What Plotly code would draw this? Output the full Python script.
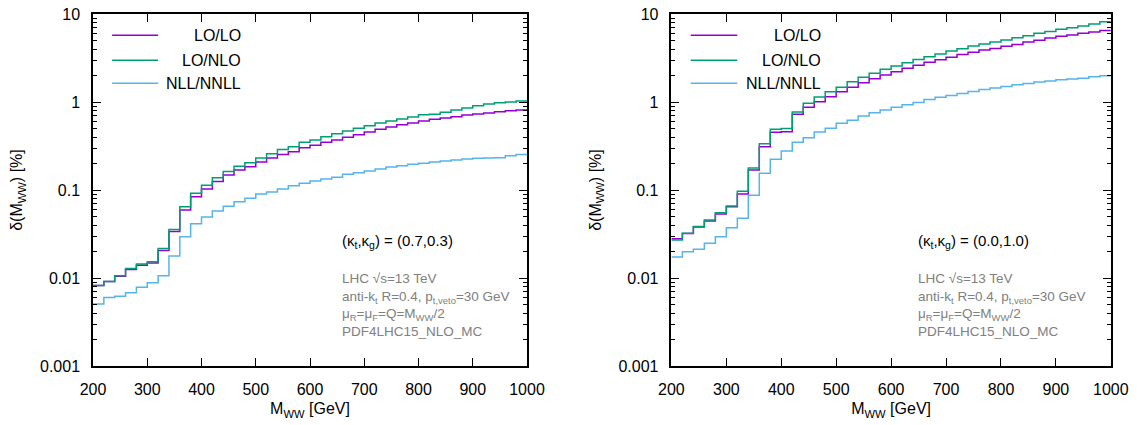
import plotly.graph_objects as go

# Bin edges in M_WW [GeV]: 20 GeV bins from 200 to 1000
bin_lo = list(range(200, 1000, 20))
x_edges = bin_lo + [1000]

# (kt, kg) = (0.7, 0.3)
left_lolo = [0.0082, 0.0091, 0.0105, 0.0125, 0.0140, 0.0148, 0.0206, 0.0337, 0.0592, 0.084,
             0.1026, 0.125, 0.148, 0.169, 0.184, 0.208, 0.231, 0.254, 0.272, 0.303,
             0.322, 0.348, 0.37, 0.397, 0.426, 0.456, 0.489, 0.52, 0.553, 0.577,
             0.608, 0.636, 0.658, 0.68, 0.712, 0.73, 0.75, 0.776, 0.797, 0.811]
left_lonlo = [0.0082, 0.0091, 0.0106, 0.0128, 0.0144, 0.0153, 0.0217, 0.0357, 0.0647, 0.0917,
              0.113, 0.138, 0.162, 0.186, 0.204, 0.231, 0.259, 0.288, 0.31, 0.348,
              0.37, 0.404, 0.436, 0.468, 0.502, 0.538, 0.577, 0.608, 0.641, 0.675,
              0.718, 0.724, 0.763, 0.811, 0.855, 0.908, 0.949, 0.983, 1.0, 1.03]
left_nllnnll = [0.00507, 0.0060, 0.0062, 0.0068, 0.00783, 0.00885, 0.0106, 0.0178, 0.0295, 0.0414,
                0.0493, 0.0577, 0.0652, 0.0737, 0.0804, 0.090, 0.095, 0.1030, 0.112, 0.119,
                0.127, 0.133, 0.140, 0.151, 0.157, 0.164, 0.173, 0.183, 0.189, 0.196,
                0.201, 0.208, 0.214, 0.219, 0.225, 0.229, 0.231, 0.233, 0.245, 0.254]

# (kt, kg) = (0.0, 1.0)
right_lolo = [0.028, 0.032, 0.038, 0.0445, 0.0535, 0.0645, 0.090, 0.169, 0.311, 0.452,
              0.46, 0.727, 0.87, 1.01, 1.15, 1.31, 1.47, 1.66, 1.84, 2.03,
              2.21, 2.42, 2.62, 2.84, 3.02, 3.23, 3.47, 3.67, 3.90, 4.07,
              4.3, 4.5, 4.8, 5.05, 5.35, 5.58, 5.78, 6.03, 6.25, 6.48]
right_lonlo = [0.027, 0.0322, 0.0386, 0.0456, 0.0552, 0.0658, 0.0966, 0.178, 0.335, 0.489,
               0.50, 0.77, 0.966, 1.14, 1.31, 1.47, 1.70, 1.91, 2.13, 2.35,
               2.57, 2.80, 3.05, 3.27, 3.51, 3.80, 4.04, 4.33, 4.56, 4.80,
               5.06, 5.38, 5.67, 6.03, 6.35, 6.70, 7.0, 7.3, 7.7, 8.15]
right_nllnnll = [0.0173, 0.0199, 0.0212, 0.0248, 0.0295, 0.0373, 0.0477, 0.0875, 0.155, 0.223,
                 0.278, 0.348, 0.393, 0.456, 0.502, 0.573, 0.619, 0.693, 0.757, 0.81,
                 0.87, 0.93, 0.99, 1.07, 1.13, 1.19, 1.25, 1.32, 1.39, 1.44,
                 1.5, 1.57, 1.62, 1.69, 1.73, 1.79, 1.83, 1.86, 1.94, 1.99]

series_names = ["LO/LO", "LO/NLO", "NLL/NNLL"]
series_colors = ["#9400D3", "#009E73", "#56B4E9"]
kappa_labels = ["(κ<sub>t</sub>,κ<sub>g</sub>) = (0.7,0.3)", "(κ<sub>t</sub>,κ<sub>g</sub>) = (0.0,1.0)"]
info_lines = ["LHC √s=13 TeV",
              "anti-k<sub>t</sub> R=0.4, p<sub>t,veto</sub>=30 GeV",
              "μ<sub>R</sub>=μ<sub>F</sub>=Q=M<sub>WW</sub>/2",
              "PDF4LHC15_NLO_MC"]
y_tickvals = [0.001, 0.01, 0.1, 1, 10]
y_ticktext = ["0.001", "0.01", "0.1", "1", "10"]
x_tickvals = list(range(200, 1001, 100))

FONT = "Liberation Sans, Arial, sans-serif"

panels = [
    ("x", "y", [left_lolo, left_lonlo, left_nllnnll]),
    ("x2", "y2", [right_lolo, right_lonlo, right_nllnnll]),
]

fig = go.Figure()
for xa, ya, data in panels:
    # histogram steps: LO/LO, then LO/NLO on top, then NLL/NNLL
    for name, color, vals in zip(series_names, series_colors, data):
        fig.add_trace(go.Scatter(
            x=x_edges, y=list(vals) + [vals[-1]],
            mode="lines", line=dict(color=color, width=1.5, shape="hv"),
            name=name, showlegend=False, xaxis=xa, yaxis=ya,
        ))

minor_vals = [m * 10 ** e for e in range(-3, 1) for m in range(2, 10)]

axis_common = dict(
    showline=True, linecolor="black", linewidth=1.5, mirror="ticks",
    ticks="inside", ticklen=8, tickwidth=1.2, tickcolor="black",
    showgrid=False, zeroline=False, automargin=False,
    tickfont=dict(family=FONT, size=16, color="black"),
)

x_domains = [[0.0818, 0.4635], [0.5905, 0.9770]]
y_domain = [0.1388, 0.967]

for i, (xa, ya, _) in enumerate(panels):
    xkey = "xaxis" if i == 0 else "xaxis2"
    ykey = "yaxis" if i == 0 else "yaxis2"
    fig.update_layout(**{
        xkey: dict(axis_common, domain=x_domains[i], range=[200, 1000],
                   tickvals=x_tickvals, anchor=ya, ticklabelstandoff=8,
                   title=dict(text="M<sub>WW</sub> [GeV]", standoff=6,
                              font=dict(family=FONT, size=16, color="black"))),
        ykey: dict(axis_common, domain=y_domain, type="log", range=[-3, 1],
                   tickvals=y_tickvals, ticktext=y_ticktext, anchor=xa,
                   ticklabelstandoff=8,
                   minor=dict(ticks="inside", ticklen=4, tickwidth=1, tickcolor="black",
                              tickvals=minor_vals, showgrid=False),
                   title=dict(text="δ(M<sub>WW</sub>) [%]", standoff=13,
                              font=dict(family=FONT, size=16, color="black"))),
    })

# Legend drawn inside each panel, text right-aligned after the sample line
legend_rows = [0.940, 0.869, 0.803]
text_x = [0.570, 0.557]
for i in range(2):
    xd = "x domain" if i == 0 else "x2 domain"
    yd = "y domain" if i == 0 else "y2 domain"
    for name, color, yrow in zip(series_names, series_colors, legend_rows):
        fig.add_shape(type="line", xref=xd, yref=yd, x0=0.044, x1=0.150, y0=yrow, y1=yrow,
                      line=dict(color=color, width=1.5))
        fig.add_annotation(xref=xd, yref=yd, x=0.346, y=yrow, text=name, showarrow=False,
                           xanchor="right", yanchor="middle",
                           font=dict(family=FONT, size=16, color="black"))
    fig.add_annotation(xref=xd, yref=yd, x=text_x[i], y=0.353, text=kappa_labels[i],
                       showarrow=False, xanchor="left", yanchor="middle",
                       font=dict(family=FONT, size=15, color="black"))
    for line, yv in zip(info_lines, [0.250, 0.196, 0.145, 0.097]):
        fig.add_annotation(xref=xd, yref=yd, x=text_x[i], y=yv, text=line,
                           showarrow=False, xanchor="left", yanchor="middle",
                           font=dict(family=FONT, size=13.5, color="#808080"))

fig.update_layout(
    width=1137, height=425,
    margin=dict(l=0, r=0, t=0, b=0),
    paper_bgcolor="white", plot_bgcolor="white",
    showlegend=False,
)

fig.write_html("out.html")
